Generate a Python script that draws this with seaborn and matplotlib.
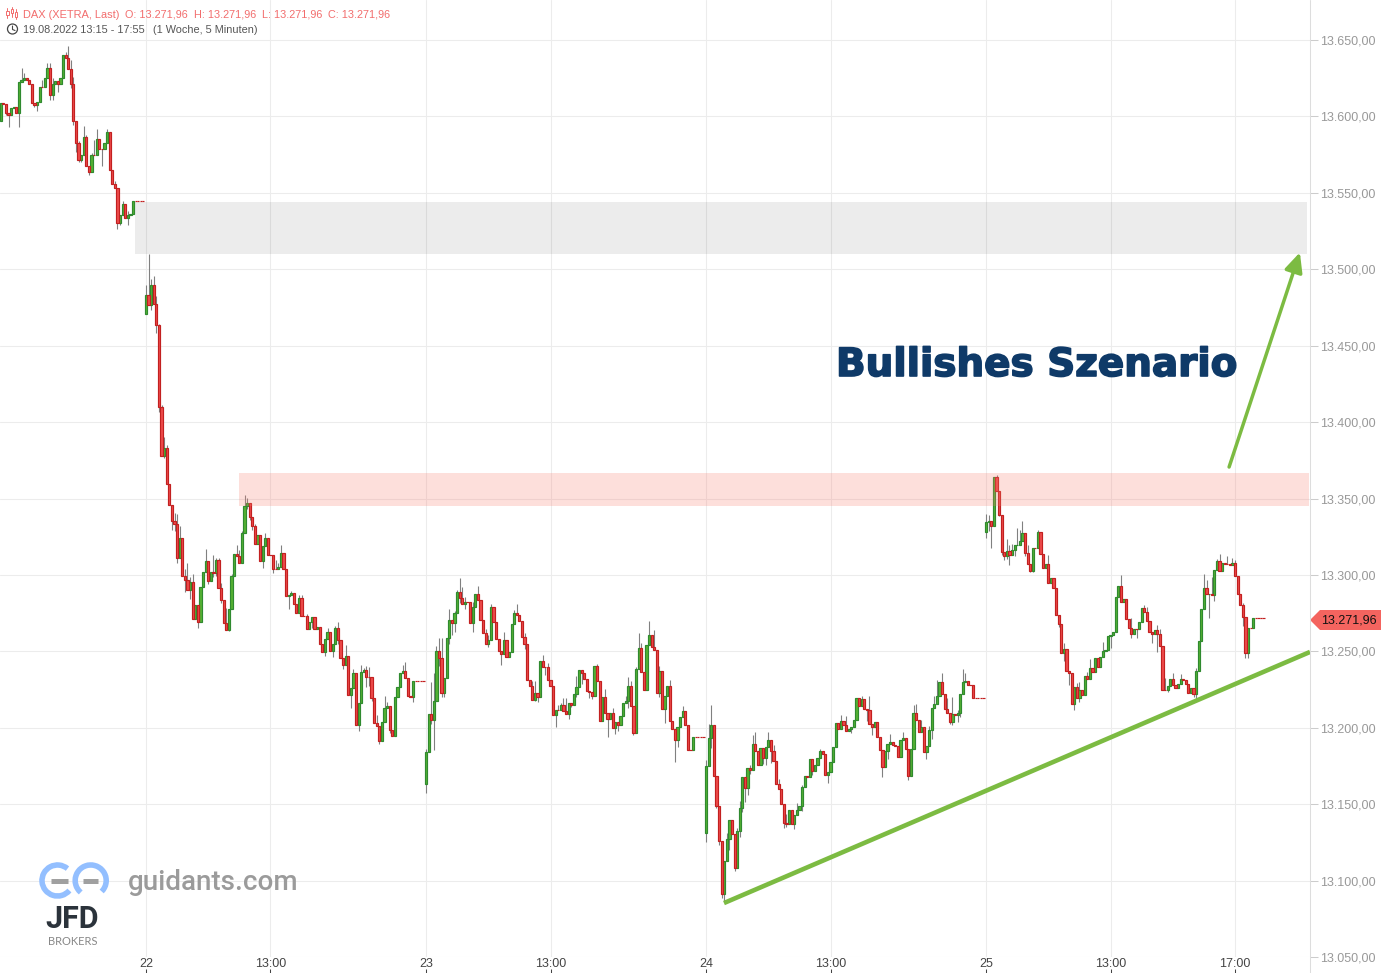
import matplotlib
matplotlib.use("Agg")
import matplotlib.patheffects as pe
import matplotlib.pyplot as plt
import numpy as np
import pandas as pd
import seaborn as sns
from matplotlib.patches import Arc, Circle, Polygon, Rectangle

# DAX 5 minute closes per session
open_19 = 13596.7
closes_19 = [
    13609, 13608, 13602, 13601, 13605.5, 13606, 13602, 13622.4, 13623.7, 13625.4,
    13623.7, 13621, 13608.5, 13607.4, 13609.3, 13619, 13619, 13625.4, 13632, 13614.3,
    13621, 13623, 13621, 13625.4, 13640, 13638, 13631, 13621, 13597, 13582.4,
    13571.3, 13574.6, 13586.5, 13567.4, 13563.5, 13574.8, 13574.8, 13585.2, 13579, 13578.7,
    13582.6, 13589.8, 13564.8, 13556, 13553, 13530.2, 13535.2, 13542.8, 13533.7, 13535.2,
    13536.3, 13544.8, 13544.8, 13544.8, 13544.8, 13544.8,
]
open_22 = 13471
closes_22 = [
    13483, 13476.5, 13489.6, 13477.2, 13463.5, 13410, 13377.8, 13383.3, 13359.4, 13345.6,
    13335.6, 13333.6, 13311, 13324, 13299, 13296.7, 13290.4, 13295.6, 13271.4, 13280.6,
    13269.2, 13292.4, 13302.2, 13309.4, 13296, 13302.2, 13301.5, 13310, 13291.7, 13283.8,
    13268.6, 13264, 13278, 13299, 13313.8, 13312.4, 13308, 13327.7, 13345.4, 13347.2,
    13338.2, 13332.3, 13320.5, 13326.2, 13309.4, 13319.2, 13324.2, 13313.3, 13313.3, 13304.1,
    13303.7, 13305.5, 13314.6, 13304.1, 13286.5, 13287, 13288.4, 13281, 13275.1, 13285.2,
    13273.4, 13273.4, 13264.8, 13269, 13272.7, 13264.8, 13266.2, 13255, 13249.8, 13258.3,
    13262.9, 13250.4, 13255, 13265.5, 13257.6, 13245.9, 13241.3, 13247.2, 13221.6, 13226.2,
    13236, 13202, 13216.4, 13236.7, 13238, 13233.4, 13233, 13219.6, 13203.3, 13201.3,
    13191.3, 13204, 13213.1, 13214.2, 13198.5, 13194.8, 13220.3, 13226.9, 13236, 13237.3,
    13232.8, 13220.7, 13220.3, 13230.8, 13230.8, 13230.8, 13230.8, 13230.8,
]
open_23 = 13163.5
closes_23 = [
    13184.3, 13209.1, 13205.2, 13217.6, 13250.2, 13245.7, 13222.6, 13232.6, 13258.7, 13270.4,
    13268.5, 13275, 13288.7, 13284.8, 13280.7, 13282.6, 13282.6, 13268.5, 13278.9, 13287.2,
    13283.9, 13270.4, 13261.7, 13254.8, 13257.2, 13278.9, 13269.1, 13258, 13250.2, 13248,
    13257.2, 13246.3, 13249.6, 13267.8, 13275, 13273.7, 13269.8, 13259.3, 13254.8, 13231.3,
    13227.4, 13218.3, 13222.8, 13220.2, 13243.7, 13239.8, 13239.8, 13231.3, 13227.4, 13208.3,
    13211.7, 13211.5, 13214.6, 13211, 13209, 13216, 13215, 13222.2, 13226.7, 13237.8,
    13235.7, 13232, 13224, 13223.5, 13220.7, 13240.4, 13230.7, 13204.6, 13220.2, 13209.6,
    13206, 13209.6, 13200, 13203.9, 13202, 13208, 13216, 13217.6, 13227.4, 13214.3,
    13196.7, 13238.4, 13252.2, 13236.5, 13224.8, 13254.1, 13260.7, 13252.8, 13250.9, 13222.8,
    13237.2, 13212.4, 13220.9, 13227.4, 13204.6, 13199.3, 13192.2, 13200.7, 13207.2, 13211,
    13202, 13185.7, 13185.7, 13193.9, 13193.9, 13193.9, 13193.9, 13193.9,
]
open_24 = 13130.9
closes_24 = [
    13174.8, 13193.5, 13202, 13168.5, 13148.7, 13126, 13090.9, 13113, 13127, 13139.8,
    13130.2, 13108.3, 13132.2, 13147.2, 13168, 13160.7, 13173.9, 13172.6, 13189.6, 13185,
    13175.7, 13187, 13180.4, 13187.4, 13192.2, 13185, 13178.5, 13163.5, 13160.2, 13149.8,
    13138, 13136.7, 13145.9, 13136.7, 13142.6, 13146.5, 13149.1, 13161.5, 13168.7, 13168,
    13179.8, 13172, 13175.9, 13180.4, 13185, 13183, 13169.3, 13171.3, 13177.8, 13187.6,
    13203.3, 13199.3, 13204.6, 13202, 13198, 13199.3, 13200.7, 13205.2, 13219.6, 13214.3,
    13218.9, 13212.4, 13211.7, 13202.6, 13200.7, 13203.9, 13194, 13185.7, 13174.6, 13185,
    13189.6, 13190.7, 13189, 13188.3, 13181, 13192, 13193.5, 13186.3, 13168.7, 13186.3,
    13209.8, 13205.2, 13197.4, 13200.7, 13184.3, 13188.3, 13198.7, 13213, 13215.7, 13220.9,
    13230, 13222.2, 13212.4, 13209.8, 13203.9, 13209.1, 13208.5, 13209.8, 13222.2, 13230,
    13230.7, 13228, 13228, 13219.6, 13219.6, 13219.6, 13219.6, 13219.6,
]
open_25 = 13328.4
closes_25 = [
    13334.3, 13335, 13331.7, 13363.8, 13355, 13339.5, 13315.3, 13312.7, 13315.7, 13313.3,
    13316, 13319.6, 13319.8, 13322.5, 13327.7, 13314.6, 13307.4, 13302.8, 13317.9, 13317.9,
    13328.4, 13314, 13304.8, 13307.4, 13295, 13298.3, 13291.7, 13274, 13268, 13248.9,
    13251.5, 13237, 13235.8, 13215.5, 13226.6, 13219.6, 13224.7, 13221.6, 13233.8, 13232,
    13239, 13236.7, 13245.8, 13240, 13246.5, 13250.2, 13251, 13260.3, 13261, 13262.7,
    13285.8, 13293, 13282.5, 13284.5, 13271.4, 13265.5, 13261.6, 13264.8, 13264.8, 13269.4,
    13278.6, 13276, 13269.9, 13262.9, 13261.6, 13264.2, 13261.6, 13253.7, 13224.7, 13224.7,
    13227.3, 13232, 13228, 13226, 13228.8, 13232, 13231.3, 13228.8, 13223, 13226.2,
    13222, 13237.3, 13257, 13278, 13291.7, 13287.6, 13287.8, 13287.1, 13303.5, 13309.4,
    13302.8, 13308, 13307.4, 13307, 13306.6, 13308, 13299, 13287.8, 13280.3, 13272.7,
    13248.9, 13265.5, 13265.5, 13272, 13271.96, 13271.96, 13271.96, 13271.96,
]

# wick lengths (bar number, points above body, points below body)
wicks_19 = [
    (2, 0, 1), (3, 0, 7.8), (7, 0, 8.7), (8, 8, 0), (9, 3, 0), (13, 0, 1), (14, 0, 4), (16, 5, 0),
    (18, 3, 0), (19, 3, 3.5), (20, 4, 3.5), (22, 0, 5), (25, 2, 0), (26, 8, 0), (27, 6, 2.5),
    (28, 5, 2.5), (29, 0, 6), (30, 1.5, 1), (31, 0, 1), (32, 7, 0), (33, 1.5, 0), (34, 0, 2),
    (35, 1, 0), (36, 10, 0), (37, 6.5, 0), (39, 0, 11), (41, 2, 0), (44, 1.5, 0), (45, 0, 4),
    (46, 0, 1), (47, 2, 0), (49, 3, 4.5),
]
wicks_22 = [
    (56, 7, 0), (57, 27, 0), (58, 4, 3), (59, 6, 0), (60, 5, 5), (61, 1, 3.5), (62, 1.5, 0),
    (63, 7, 1), (64, 2, 0), (66, 0, 6), (67, 5, 5), (68, 6, 3), (69, 8, 0), (71, 5, 8), (72, 11, 0),
    (73, 3, 6), (74, 5, 0), (76, 0, 4), (79, 7.4, 0), (80, 0, 2), (82, 11, 3), (83, 1, 2.5),
    (84, 1, 0), (85, 3, 2.4), (87, 10, 0), (88, 0, 1), (89, 1.5, 0), (91, 5.6, 0), (92, 4, 0),
    (93, 1, 0), (94, 7, 0), (95, 3, 2), (96, 0, 2), (97, 0, 3), (98, 1, 0), (101, 0, 5), (102, 3, 0),
    (105, 0, 3), (106, 5.5, 0), (107, 2, 0), (108, 5, 0), (111, 0, 9), (112, 1, 0), (115, 1.5, 0),
    (116, 1.5, 0), (118, 1, 0), (120, 0, 4), (125, 0, 3), (126, 2.6, 0), (128, 0, 4), (129, 1, 0),
    (130, 4, 3), (132, 0, 3), (133, 7, 0), (135, 0, 8.5), (136, 2.6, 0), (138, 0, 4), (139, 4.6, 0),
    (140, 1, 0), (141, 2.5, 6.5), (142, 6.5, 5.6), (143, 0, 2), (145, 5, 0), (146, 0, 2), (148, 8, 0),
    (149, 2.6, 0), (150, 0, 1.7), (155, 3.5, 0), (156, 5.6, 0), (159, 0, 3.5),
]
wicks_23 = [
    (164, 1.5, 6.5), (166, 21, 3), (167, 18, 20), (168, 3.5, 0), (169, 8.7, 5.4), (170, 13, 2.6),
    (171, 0, 2.6), (173, 7, 3.7), (174, 0, 7.6), (175, 1.5, 6), (176, 1.5, 0), (177, 9, 3), (178, 7, 0),
    (179, 3, 3), (182, 3.7, 6), (184, 5.6, 0), (187, 3, 0), (188, 3.7, 2), (189, 2, 0), (193, 0, 7),
    (194, 5.6, 0), (198, 2, 0), (199, 6, 0), (202, 3, 3), (205, 3.5, 0), (206, 7.5, 1), (207, 0, 3.5),
    (209, 4, 0), (210, 0, 5.6), (211, 2.6, 0), (214, 0, 8), (215, 3, 0), (216, 1.3, 0), (217, 5, 0),
    (218, 8.7, 0), (219, 0, 3), (220, 0, 1.3), (222, 7.4, 2), (224, 0, 7), (227, 0, 4), (228, 0, 2),
    (230, 1.5, 0), (233, 5.4, 0), (234, 0, 12), (236, 3, 0), (237, 0, 4), (238, 0, 4), (241, 3.5, 0),
    (242, 6, 4.6), (243, 3.5, 0), (244, 0, 1.5), (245, 1.3, 0), (246, 10, 0), (247, 3, 0), (250, 9.3, 0),
    (252, 11, 0), (254, 3.5, 3), (256, 0, 9), (258, 4, 0), (260, 0, 14.5), (261, 0, 4.6), (263, 3.5, 0),
]
wicks_24 = [
    (272, 4, 5.4), (273, 9, 0), (274, 12.6, 6.7), (276, 0, 1.5), (277, 0, 2.6), (278, 0, 2), (279, 0, 5),
    (280, 4, 0), (281, 0, 6.7), (283, 0, 2), (284, 2, 0), (285, 4.6, 3.5), (286, 0, 2.6), (287, 0, 9.5),
    (288, 0, 5), (289, 1.5, 3), (290, 5.4, 0), (291, 7.4, 0), (294, 0, 4), (295, 0, 4.8), (296, 4.8, 0),
    (297, 0, 8), (298, 3.5, 0), (300, 3, 0), (302, 0, 3.5), (303, 5.4, 1.5), (306, 0, 3), (307, 4, 0),
    (309, 1, 3.5), (313, 0, 3), (316, 1.3, 0), (319, 0, 5.6), (324, 3.5, 0), (326, 5.6, 0), (328, 0, 3),
    (332, 2, 0), (334, 0, 7), (335, 9, 0), (336, 0, 5.6), (340, 0, 6.5), (342, 0, 5.7), (343, 5, 0),
    (348, 3.7, 0), (350, 0, 3), (352, 5, 0), (353, 6, 0), (355, 4.5, 0), (357, 0, 4.6), (358, 2.4, 0),
    (359, 0, 6), (360, 5, 0), (361, 10.6, 0), (363, 6, 0), (365, 7, 0), (366, 0, 1.7), (367, 10.7, 2),
    (369, 1.7, 5), (370, 0, 2.6), (371, 8.5, 0), (372, 5, 0),
]
wicks_25 = [
    (380, 5.5, 4.5), (381, 4, 5.5), (382, 0, 14), (384, 1.5, 0), (385, 0, 1), (386, 0, 2.4), (387, 0, 3),
    (388, 7.7, 2), (389, 4, 7), (390, 4, 0), (391, 0, 3.5), (392, 10.6, 0), (393, 7, 0), (394, 7.6, 0),
    (395, 0, 2), (396, 5, 0), (397, 0, 1), (398, 0, 1), (400, 1, 0), (404, 5.4, 0), (408, 0, 2), (410, 4, 5),
    (412, 0, 8), (414, 0, 4), (415, 3, 0), (416, 5, 3), (419, 3, 0), (420, 6, 0), (425, 6, 0), (428, 0, 8),
    (432, 6.7, 0), (436, 6, 3), (438, 0, 6), (441, 1.5, 0), (442, 3, 0), (444, 0, 6), (446, 3, 12), (447, 3, 0),
    (449, 8, 0), (450, 0, 1.5), (452, 3.5, 0), (455, 3, 0), (460, 0, 2), (461, 2, 3.5), (464, 9, 0), (465, 5, 0),
    (466, 0, 16), (467, 11, 0), (468, 0, 4), (469, 1, 0), (470, 4, 0), (473, 5, 0), (475, 3, 0), (476, 2, 0),
    (479, 1.5, 6), (480, 0, 3), (481, 0, 3),
]

x_tick_bars = [56, 104, 164, 212, 272, 320, 380, 428, 476]
x_tick_labels = ["22", "13:00", "23", "13:00", "24", "13:00", "25", "13:00", "17:00"]
y_tick_values = list(range(13050, 13651, 50))
y_tick_labels = [f"13.{v - 13000:03d},00" for v in y_tick_values]

# zones and drawn lines, (bar, price)
grey_zone = (51.8, 503.7, 13510, 13544)
red_zone = (91.9, 504.5, 13345, 13366.7)
trend_line = ([278.9, 504.9], [13085.3, 13249.6])
arrow_line = ([473.7, 501.0], [13370.6, 13511])

W, H = 1381, 973
GREEN_LINE = "#7cbb42"

sns.set_theme(style="whitegrid", rc={"grid.color": "#ececec", "grid.linewidth": 0.75})
plt.rcParams["font.family"] = ["Liberation Sans", "DejaVu Sans"]

# build the bar table
starts = [0, 56, 164, 272, 380]
sessions = [(open_19, closes_19), (open_22, closes_22), (open_23, closes_23), (open_24, closes_24), (open_25, closes_25)]
rows = []
for start, (first, closes) in zip(starts, sessions):
    opens = [first] + closes[:-1]
    for k, (o, c) in enumerate(zip(opens, closes)):
        rows.append({"bar": start + k, "open": o, "close": c})
bars = pd.DataFrame(rows)
bars["body"] = (bars["close"] - bars["open"]).abs()
bars["body_low"] = bars[["open", "close"]].min(axis=1)
bars["body_high"] = bars[["open", "close"]].max(axis=1)
bars["rising"] = bars["close"] > bars["open"]

wicks = pd.DataFrame(wicks_19 + wicks_22 + wicks_23 + wicks_24 + wicks_25, columns=["bar", "up", "down"])
wicks = wicks.merge(bars, on="bar")

fig = plt.figure(figsize=(W / 100, H / 100), dpi=100)
ax = fig.add_axes([0, (H - 957) / H, 1310 / W, 957 / H])
ax.set_facecolor("white")

ax.vlines(wicks["bar"], wicks["body_low"] - wicks["down"], wicks["body_high"] + wicks["up"], color="#808080", lw=0.8, zorder=2)

for rising, face, edge in [(True, "#55b233", "#2f8a2f"), (False, "#ee4b4b", "#c22020")]:
    sub = bars[bars["rising"] == rising]
    sns.barplot(
        data=sub, x="bar", y="body", bottom=sub["body_low"].values, native_scale=True, width=0.85,
        color=face, saturation=1, edgecolor=edge, linewidth=0.85, errorbar=None, ax=ax, zorder=3,
    )

for (x0, x1, y0, y1), colour, alpha in [(grey_zone, "black", 0.075), (red_zone, "#fa8072", 0.25)]:
    ax.add_patch(Rectangle((x0, y0), x1 - x0, y1 - y0, facecolor=colour, edgecolor="none", alpha=alpha, zorder=5))

ax.plot(trend_line[0], trend_line[1], color=GREEN_LINE, lw=3.3, solid_capstyle="butt", zorder=6)
ax.annotate(
    "", xy=(arrow_line[0][1], arrow_line[1][1]), xytext=(arrow_line[0][0], arrow_line[1][0]), zorder=6,
    arrowprops=dict(arrowstyle="-|>,head_length=0.9,head_width=0.42", color=GREEN_LINE, lw=2.5, shrinkA=0, shrinkB=0, mutation_scale=13),
)

ax.set_xlim(-0.3, 504.9)
ax.set_ylim(13050, 13650 + 40 / 1.5283)
ax.set_xlabel("")
ax.set_ylabel("")
ax.set_xticks(x_tick_bars)
ax.set_xticklabels(x_tick_labels)
ax.set_yticks(y_tick_values)
ax.set_yticklabels(y_tick_labels, va="center_baseline")
ax.yaxis.tick_right()
ax.tick_params(axis="y", length=6, width=0.75, color="#cccccc", labelcolor="#999999", labelsize=9, pad=1.4, right=True, left=False)
ax.tick_params(axis="x", length=0, labelcolor="#444444", labelsize=9, pad=0.5)
ax.grid(True, zorder=0)
ax.set_axisbelow(True)
for spine in ax.spines.values():
    spine.set_visible(False)
# tick marks sit under the labels on this chart
ax.vlines(x_tick_bars, -16 / 957, -12 / 957, transform=ax.get_xaxis_transform(), color="#444444", lw=0.75, clip_on=False)

# overlay in pixels for header, price flag and logo
ov = fig.add_axes([0, 0, 1, 1], facecolor="none")
ov.set_xlim(0, W)
ov.set_ylim(H, 0)
ov.axis("off")
ov.plot([1310, 1310], [0, H], color="#dddddd", lw=0.75)

RED_TEXT = "#f26d6d"
ov.text(23, 14.5, "DAX (XETRA, Last)", color=RED_TEXT, fontsize=7.9, va="center")
for x, txt in [(125, "O: 13.271,96"), (194, "H: 13.271,96"), (262, "L: 13.271,96"), (328, "C: 13.271,96")]:
    ov.text(x, 14.5, txt, color=RED_TEXT, fontsize=7.8, va="center")
ov.text(23, 30, "19.08.2022 13:15 - 17:55", color="#555555", fontsize=7.8, va="center")
ov.text(153, 30, "(1 Woche, 5 Minuten)", color="#555555", fontsize=7.8, va="center")
for cx, top, bot, b0, b1 in [(7.5, 8, 18, 11, 15), (12, 7, 17, 9, 13), (16, 9, 19, 12, 17)]:
    ov.plot([cx, cx], [top, bot], color=RED_TEXT, lw=0.7)
    ov.add_patch(Rectangle((cx - 1.2, b0), 2.4, b1 - b0, facecolor="white", edgecolor=RED_TEXT, lw=0.7, zorder=3))
ov.add_patch(Circle((12.5, 29), 5, facecolor="none", edgecolor="#444444", lw=0.9))
ov.plot([12.5, 12.5, 15], [26, 29.5, 30.5], color="#444444", lw=0.8)

ov.add_patch(Polygon([(1310, 620), (1320, 610), (1381, 610), (1381, 630), (1320, 630)], facecolor="#f4645f", edgecolor="none"))
ov.text(1321, 620.5, "13.271,96", color="#111111", fontsize=9, va="center")

ov.text(
    836, 365, "Bullishes Szenario", color="#0f3a68", fontsize=28, fontweight="bold", family="DejaVu Sans", va="center",
    path_effects=[pe.withStroke(linewidth=1.2, foreground="#0f3a68")],
)

# logo
BLUE = "#93bfff"
ov.add_patch(Arc((57.5, 880.5), 31, 31, theta1=40, theta2=310, color=BLUE, lw=4))
ov.add_patch(Arc((90.7, 880.5), 31, 31, theta1=130, theta2=405, color=BLUE, lw=4))
ov.plot([50.7, 68.3], [880.5, 880.5], color="#a0a0a0", lw=3.6, solid_capstyle="butt")
ov.plot([82.7, 97.7], [880.5, 880.5], color="#a0a0a0", lw=3.6, solid_capstyle="butt")
ov.text(72.5, 928, "JFD", color="#2b333b", fontsize=22, fontweight="bold", family="Roboto", ha="center", va="baseline")
ov.text(72.5, 945, "BROKERS", color="#888888", fontsize=8, family="Lato", ha="center", va="baseline")
ov.text(128, 882, "guidants.com", color="#9b9b9b", fontsize=20, fontweight="medium", family="Roboto", va="center")

fig.savefig("out.png", dpi=100)
